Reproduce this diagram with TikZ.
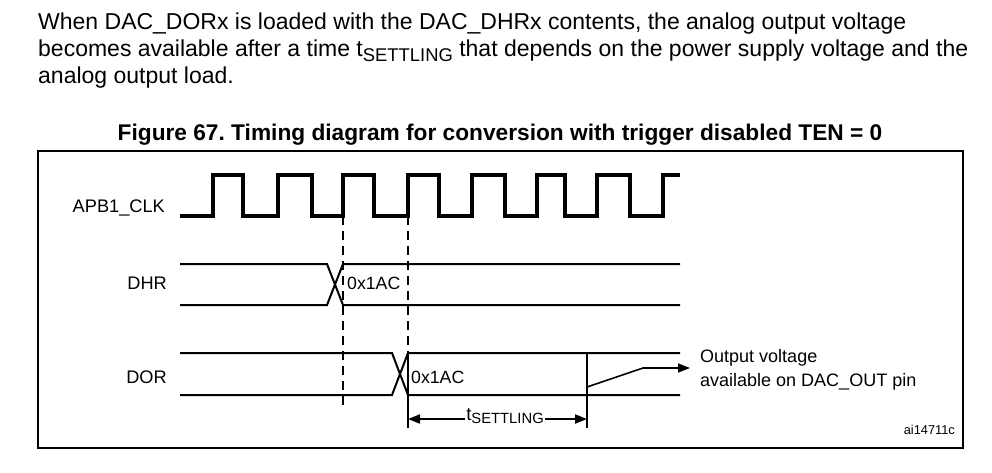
\documentclass[tikz,border=0pt]{standalone}
\usepackage{fontspec}
\setmainfont{Liberation Sans}
\usetikzlibrary{arrows.meta}
\newcommand{\tsub}[1]{t\raisebox{-0.35ex}{\fontsize{0.8em}{1em}\selectfont #1}}
\frenchspacing
\begin{document}
\begin{tikzpicture}[x=1pt,y=-1pt]
\tikzset{para/.style={anchor=base west,inner sep=0pt,font=\fontsize{23}{27}\selectfont},
  lbl/.style={anchor=base east,inner sep=0pt,font=\fontsize{18.2}{21}\selectfont},
  val/.style={anchor=base west,inner sep=0pt,font=\fontsize{17.7}{20}\selectfont},
  sig/.style={line width=2pt},
  clkline/.style={line width=3.4pt,line join=miter},
  guide/.style={line width=2.4pt,dash pattern=on 9pt off 6pt},
  tip/.style={-{Triangle[length=12pt,width=9pt]}}}
\useasboundingbox (0,0) rectangle (992,473);
% text above the figure
\node[para] (line1) at (38,30) {When DAC\_DORx is loaded with the DAC\_DHRx contents, the analog output voltage};
\node[para] (line2) at (38,57) {becomes available after a time \tsub{SETTLING} that depends on the power supply voltage and the};
\node[para] (line3) at (38,84) {analog output load.};
\node[anchor=base,inner sep=0pt,font=\fontsize{22.7}{26}\selectfont\bfseries] (title) at (500,141)
  {Figure 67. Timing diagram for conversion with trigger disabled TEN = 0};
\draw[line width=1.4pt] (38,151) rectangle (963,448);
% signal names
\node[lbl] (clk) at (165,212) {APB1\_CLK};
\node[lbl] (dhr) at (167,289) {DHR};
\node[lbl] (dor) at (167,383) {DOR};
% clock
\draw[clkline] (180,216)
  \foreach \r/\f in {213/243,278/312,343/374,408/439,472/505,537/565,597/630}
    { -- (\r,216) -- (\r,175) -- (\f,175) -- (\f,216) }
  -- (663,216) -- (663,175) -- (680,175);
\coordinate (e1) at (343,216);
\coordinate (e2) at (408,216);
% DHR bus
\draw[sig] (180,264) -- (327,264) -- (343,305) -- (680,305);
\draw[sig] (180,305) -- (327,305) -- (343,264) -- (680,264);
\node[val] (dhrval) at (347,289) {0x1AC};
% DOR bus
\draw[sig] (180,353) -- (392,353) -- (408,395) -- (680,395);
\draw[sig] (180,395) -- (392,395) -- (408,353) -- (680,353);
\node[val] (dorval) at (411,383) {0x1AC};
% guides from the clock edges
\coordinate (g1) at (343,410);
\coordinate (g2) at (408,353);
\draw[guide] (e1) -- (g1);
\draw[guide] (e2) -- (g2);
% settling time
\coordinate (s1) at (408,428);
\coordinate (s2) at (587,428);
\draw[sig] (g2) -- (s1);
\draw[sig] (587,353) -- (s2);
\node[inner sep=1pt,font=\fontsize{18.5}{21}\selectfont] (tset) at (505,416) {\tsub{SETTLING}};
\draw[sig,tip] (tset.west |- 0,419) -- (408,419);
\draw[sig,tip] (tset.east |- 0,419) -- (587,419);
% output voltage
\coordinate (o1) at (587,387);
\coordinate (o2) at (643,368);
\coordinate (o3) at (690,368);
\draw[line width=1.6pt,tip] (o1) -- (o2) -- (o3);
\node[val,font=\fontsize{18}{21}\selectfont] (outa) at (700,362) {Output voltage};
\node[val,font=\fontsize{18}{21}\selectfont] (outb) at (700,386) {available on DAC\_OUT pin};
\node[anchor=base east,inner sep=0pt,font=\fontsize{12.8}{15}\selectfont] (ref) at (955,434) {ai14711c};
\end{tikzpicture}
\end{document}
